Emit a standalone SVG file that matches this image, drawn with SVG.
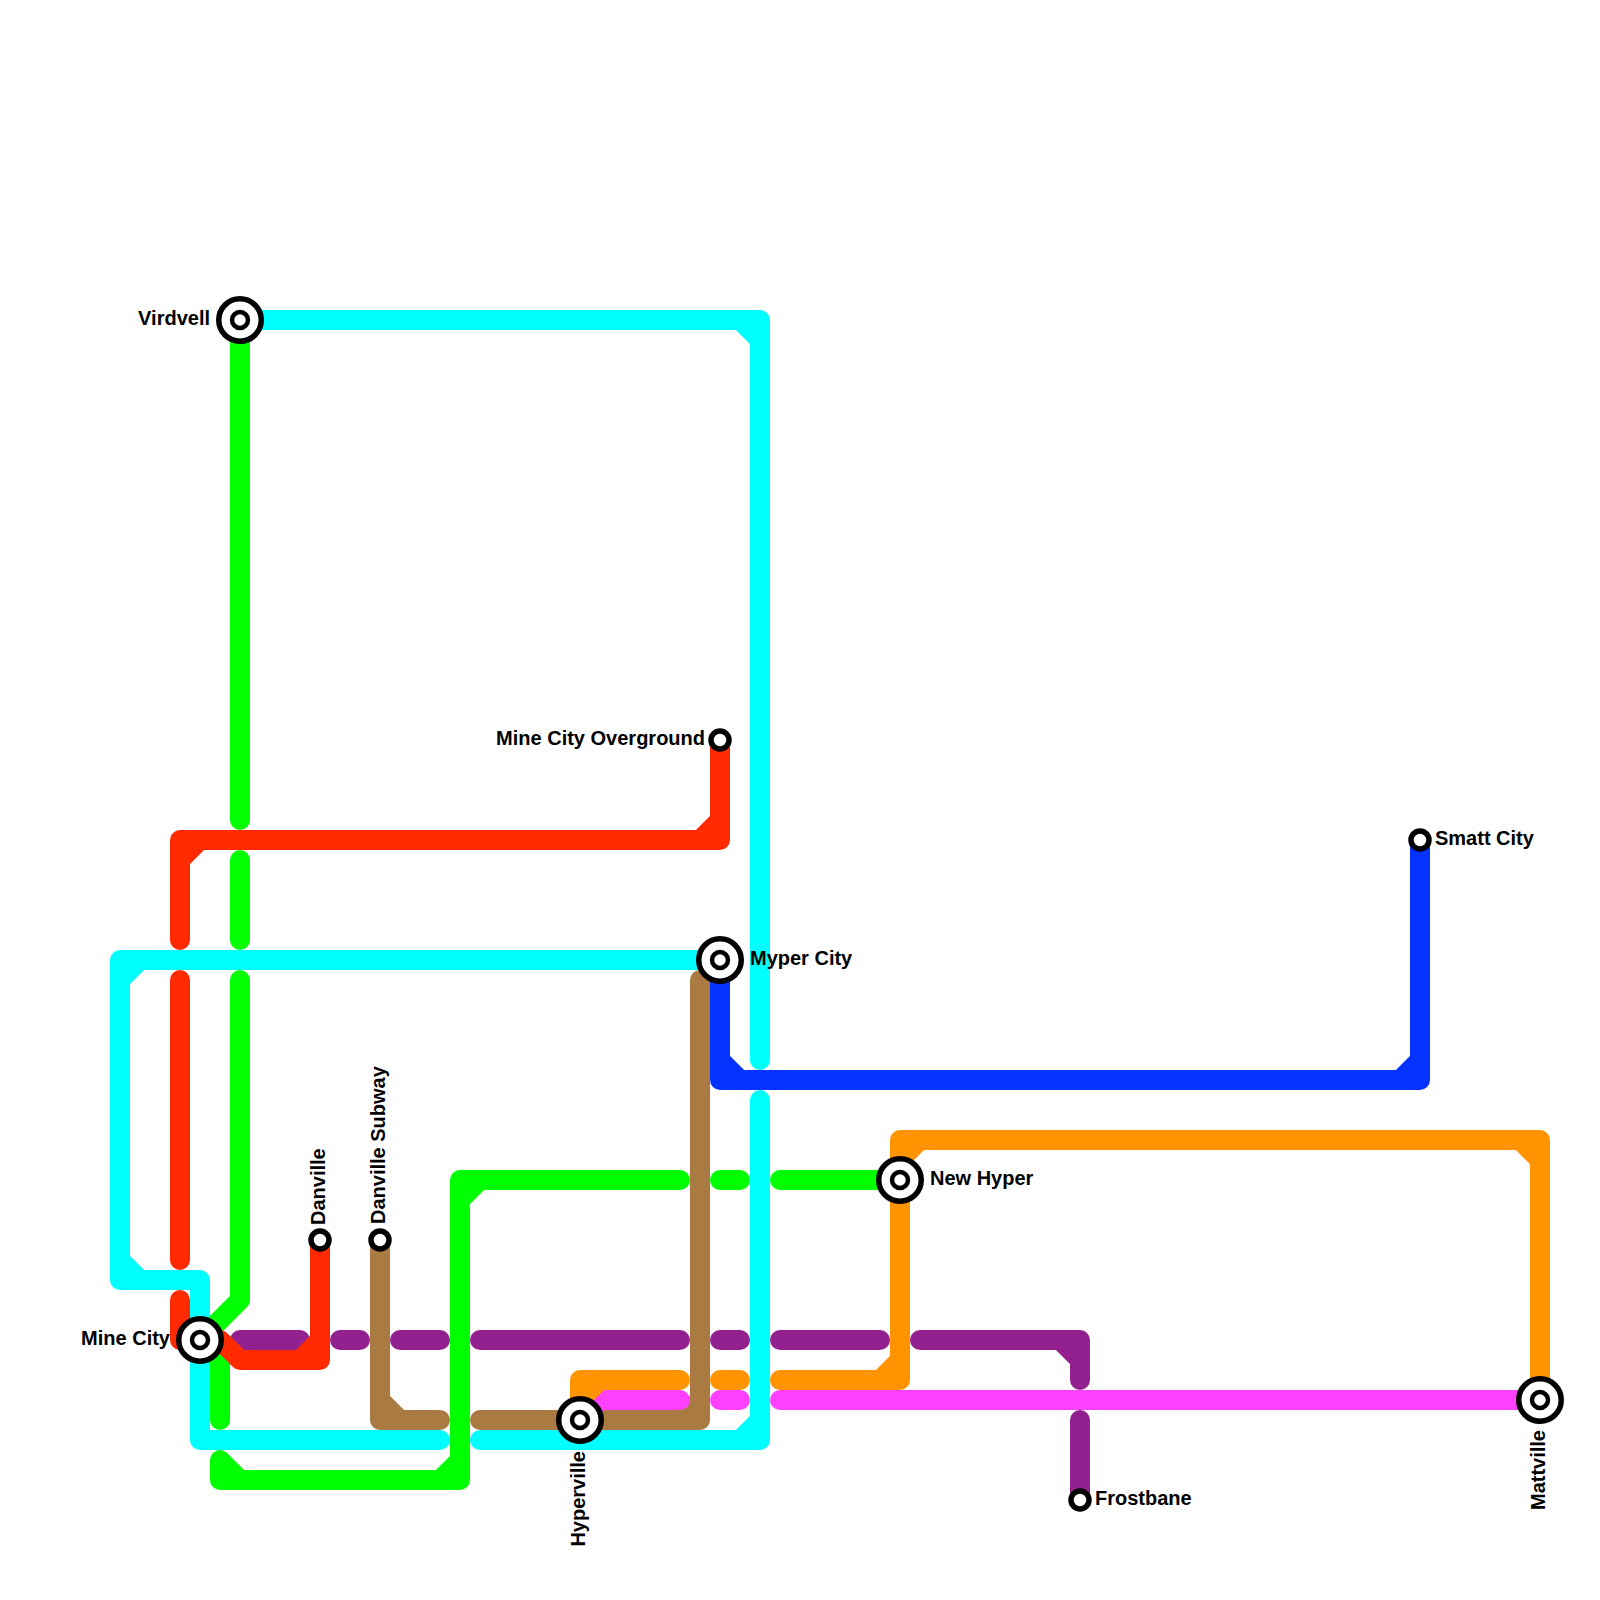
<svg xmlns="http://www.w3.org/2000/svg" width="1600" height="1600" viewBox="0 0 1600 1600">
<style>
.l{fill:none;stroke-width:20;stroke-linecap:round;stroke-linejoin:round}
.purple{stroke:#92208f}.green{stroke:#00ff00}.red{stroke:#ff2a00}.cyan{stroke:#00ffff}.blue{stroke:#0433ff}.brown{stroke:#a97a42}.magenta{stroke:#ff40ff}.orange{stroke:#ff9300}
.o{fill:#fff;stroke:#000;stroke-width:5.5}.i{fill:#fff;stroke:#000;stroke-width:4.5}.s{fill:#fff;stroke:#000;stroke-width:5.5}
text{font-family:"Liberation Sans",Arial,sans-serif;font-weight:bold;font-size:20px;fill:#000}
</style>
<rect width="1600" height="1600" fill="#fff"/>
<g id="connectors">
<path class="l purple" d="M240 1340H300M340 1340H360M400 1340H440M480 1340H680M720 1340H740M780 1340H880M920 1340H1080V1380M1060 1340L1080 1360M1080 1420V1500"/>
<path class="l cyan" d="M240 320H760V1060M740 320L760 340M760 1100V1440H480M740 1440L760 1420M440 1440H200V1280H120V960H720M120 1260L140 1280M120 980L140 960"/>
<path class="l green" d="M240 320V820M240 860V940M240 980V1300L200 1340L220 1360V1420M220 1460V1480H460V1180H680M220 1460L240 1480M440 1480L460 1460M460 1200L480 1180M720 1180H740M780 1180H900"/>
<path class="l blue" d="M720 960V1080H1420V840M720 1060L740 1080M1400 1080L1420 1060"/>
<path class="l brown" d="M380 1240V1420H440M380 1400L400 1420M480 1420H700V980M680 1420L700 1400"/>
<path class="l red" d="M720 740V840H180V940M700 840L720 820M180 860L200 840M180 980V1260M180 1300V1340H220L240 1360H320V1240M300 1360L320 1340"/>
<path class="l magenta" d="M580 1420L600 1400H680M720 1400H740M780 1400H1540"/>
<path class="l orange" d="M580 1420V1380H680M580 1400L600 1380M720 1380H740M780 1380H900V1140H1540V1400M880 1380L900 1360M900 1160L920 1140M1520 1140L1540 1160"/>
</g>
<g id="virdvell"><circle class="o" cx="240" cy="320" r="21.25"/><circle class="i" cx="240" cy="320" r="8"/><text x="210" y="325" text-anchor="end">Virdvell</text></g>
<g id="mine-city"><circle class="o" cx="200" cy="1340" r="21.25"/><circle class="i" cx="200" cy="1340" r="8"/><text x="170" y="1345" text-anchor="end">Mine City</text></g>
<g id="danville"><circle class="s" cx="320" cy="1240" r="9"/><text transform="translate(325 1225) rotate(-90)">Danville</text></g>
<g id="danville-subway"><circle class="s" cx="380" cy="1240" r="9"/><text transform="translate(385 1224) rotate(-90)">Danville Subway</text></g>
<g id="hyperville"><circle class="o" cx="580" cy="1420" r="21.25"/><circle class="i" cx="580" cy="1420" r="8"/><text transform="translate(585 1451) rotate(-90)" text-anchor="end">Hyperville</text></g>
<g id="mine-city-overground"><circle class="s" cx="720" cy="740" r="9"/><text x="705" y="745" text-anchor="end">Mine City Overground</text></g>
<g id="myper-city"><circle class="o" cx="720" cy="960" r="21.25"/><circle class="i" cx="720" cy="960" r="8"/><text x="750" y="965">Myper City</text></g>
<g id="new-hyper"><circle class="o" cx="900" cy="1180" r="21.25"/><circle class="i" cx="900" cy="1180" r="8"/><text x="930" y="1185">New Hyper</text></g>
<g id="frostbane"><circle class="s" cx="1080" cy="1500" r="9"/><text x="1095" y="1505">Frostbane</text></g>
<g id="smatt-city"><circle class="s" cx="1420" cy="840" r="9"/><text x="1435" y="845">Smatt City</text></g>
<g id="mattville"><circle class="o" cx="1540" cy="1400" r="21.25"/><circle class="i" cx="1540" cy="1400" r="8"/><text transform="translate(1545 1430) rotate(-90)" text-anchor="end">Mattville</text></g>
</svg>
